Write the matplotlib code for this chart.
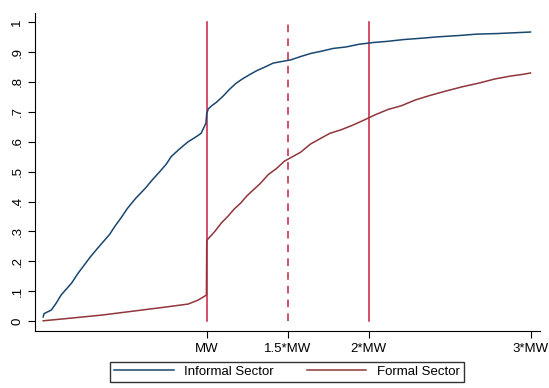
import matplotlib
matplotlib.use("Agg")
import matplotlib.pyplot as plt

plt.rcParams["font.family"] = ["Liberation Sans", "DejaVu Sans"]

# wage as a multiple of the minimum wage (MW), cumulative share of workers
informal_x = [-0.01, -0.005, 0.04, 0.07, 0.10, 0.165, 0.205, 0.24, 0.28, 0.32, 0.36, 0.40,
              0.43, 0.47, 0.51, 0.56, 0.62, 0.66, 0.71, 0.75, 0.78, 0.83, 0.885, 0.93, 0.965,
              0.995, 1.0, 1.01, 1.03, 1.06, 1.10, 1.14, 1.18, 1.22, 1.27, 1.31, 1.36, 1.41,
              1.46, 1.52, 1.58, 1.64, 1.71, 1.78, 1.86, 1.94, 2.03, 2.12, 2.22, 2.32, 2.43,
              2.55, 2.67, 2.80, 2.92, 3.0]
informal_y = [0.014, 0.025, 0.037, 0.06, 0.087, 0.127, 0.16, 0.185, 0.214, 0.24, 0.265, 0.29,
              0.315, 0.345, 0.377, 0.41, 0.444, 0.47, 0.50, 0.525, 0.55, 0.575, 0.60, 0.615, 0.628,
              0.662, 0.695, 0.71, 0.72, 0.732, 0.752, 0.775, 0.795, 0.81, 0.826, 0.838, 0.85, 0.863,
              0.868, 0.874, 0.885, 0.895, 0.903, 0.912, 0.917, 0.926, 0.932, 0.936, 0.942, 0.946, 0.951,
              0.955, 0.96, 0.962, 0.965, 0.967]

formal_x = [-0.01, 0.144, 0.35, 0.556, 0.76, 0.885, 0.946, 0.998, 1.0,
            1.05, 1.09, 1.13, 1.17, 1.21, 1.25, 1.29, 1.33, 1.38, 1.43, 1.48,
            1.53, 1.58, 1.64, 1.70, 1.76, 1.83, 1.90, 1.97, 2.04, 2.12, 2.20, 2.29,
            2.38, 2.48, 2.58, 2.68, 2.78, 2.88, 2.96, 3.0]
formal_y = [0.001, 0.009, 0.02, 0.034, 0.048, 0.057, 0.07, 0.087, 0.27,
            0.30, 0.328, 0.35, 0.375, 0.395, 0.42, 0.44, 0.46, 0.49, 0.51, 0.535,
            0.55, 0.565, 0.592, 0.61, 0.628, 0.64, 0.655, 0.672, 0.69, 0.708, 0.72, 0.74,
            0.755, 0.77, 0.784, 0.796, 0.81, 0.82, 0.826, 0.83]

mw_lines = [1.0, 1.5, 2.0]
mw_styles = ["-", (0, (5, 4)), "-"]
x_ticks = [1.0, 1.5, 2.0, 3.0]
x_labels = ["MW", "1.5*MW", "2*MW", "3*MW"]
y_ticks = [0, 0.1, 0.2, 0.3, 0.4, 0.5, 0.6, 0.7, 0.8, 0.9, 1.0]
y_labels = ["0", ".1", ".2", ".3", ".4", ".5", ".6", ".7", ".8", ".9", "1"]

fig = plt.figure(figsize=(5.49, 3.88), dpi=100)
ax = fig.add_axes([0.064, 0.147, 0.920, 0.819])

for xv, ls in zip(mw_lines, mw_styles):
    ax.plot([xv, xv], [0, 1], color="#c8203f", lw=1.1, linestyle=ls, zorder=1)

ax.plot(informal_x, informal_y, color="#1a476f", lw=1.1, label="Informal Sector", zorder=2)
ax.plot(formal_x, formal_y, color="#90353b", lw=1.1, label="Formal Sector", zorder=2)

ax.set_xlim(-0.06, 3.06)
ax.set_ylim(-0.033, 1.03)
ax.set_xticks(x_ticks)
ax.set_xticklabels(x_labels, fontsize=9.5)
ax.set_yticks(y_ticks)
ax.set_yticklabels(y_labels, fontsize=9.5, rotation=90, va="center")
ax.tick_params(direction="out", length=5, width=0.8, color="black")
ax.spines["top"].set_visible(False)
ax.spines["right"].set_visible(False)

fig.legend(loc="upper center", bbox_to_anchor=(0.523, 0.068), ncol=2, fontsize=9.5,
           frameon=True, fancybox=False, edgecolor="black", handlelength=4.5,
           columnspacing=2.5, borderpad=0.3, borderaxespad=0.0)

fig.savefig("out.png", dpi=100)
